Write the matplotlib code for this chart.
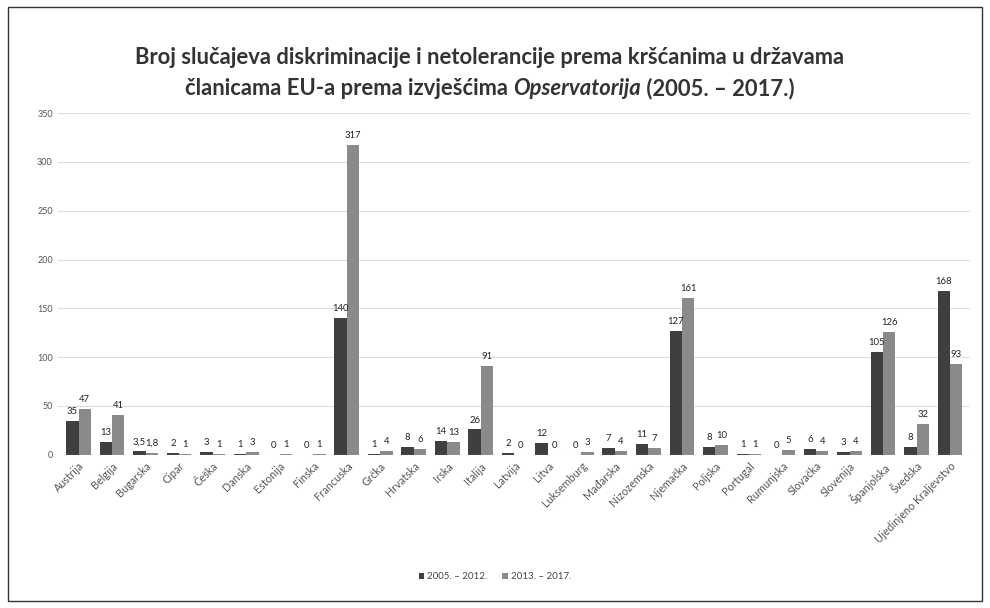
import matplotlib
matplotlib.use("Agg")
import matplotlib.pyplot as plt
import numpy as np
from matplotlib.patches import Rectangle

plt.rcParams['font.family'] = ['Lato', 'DejaVu Sans']

countries = ["Austrija", "Belgija", "Bugarska", "Cipar", "Češka", "Danska", "Estonija",
             "Finska", "Francuska", "Grčka", "Hrvatska", "Irska", "Italija", "Latvija",
             "Litva", "Luksemburg", "Mađarska", "Nizozemska", "Njemačka", "Poljska",
             "Portugal", "Rumunjska", "Slovačka", "Slovenija", "Španjolska", "Švedska",
             "Ujedinjeno Kraljevstvo"]
s2005 = [35, 13, 3.5, 2, 3, 1, 0, 0, 140, 1, 8, 14, 26, 2, 12, 0, 7, 11, 127, 8, 1, 0, 6, 3, 105, 8, 168]
s2013 = [47, 41, 1.8, 1, 1, 3, 1, 1, 317, 4, 6, 13, 91, 0, 0, 3, 4, 7, 161, 10, 1, 5, 4, 4, 126, 32, 93]
series_names = ["2005. – 2012.", "2013. – 2017."]
yticks = [0, 50, 100, 150, 200, 250, 300, 350]

def fmt(v):
    if float(v).is_integer():
        return str(int(v))
    return str(v).replace(".", ",")

fig = plt.figure(figsize=(9.9, 6.08), dpi=100)
fig.patches.append(Rectangle((0.008, 0.012), 0.984, 0.976, transform=fig.transFigure,
                             fill=False, edgecolor="#333333", linewidth=1.0))
ax = fig.add_axes([0.059, 0.252, 0.921, 0.562])

x = np.arange(len(countries))
w = 0.37
c1, c2 = "#3f3f3f", "#8a8a8a"
b1 = ax.bar(x - w/2, s2005, w, color=c1, label=series_names[0])
b2 = ax.bar(x + w/2, s2013, w, color=c2, label=series_names[1])

for xi, v in zip(x - w/2, s2005):
    ax.text(xi, v + 5, fmt(v), ha="center", va="bottom", fontsize=6.8, color="#222222")
for xi, v in zip(x + w/2, s2013):
    ax.text(xi, v + 5, fmt(v), ha="center", va="bottom", fontsize=6.8, color="#222222")

ax.set_ylim(0, 350)
ax.set_xlim(-0.6, len(countries) - 0.4)
ax.set_yticks(yticks)
ax.set_yticklabels([str(t) for t in yticks], fontsize=6.5, color="#555555")
ax.yaxis.grid(True, color="#dddddd", linewidth=0.8)
ax.set_axisbelow(True)
ax.set_xticks(x)
ax.set_xticklabels(countries, rotation=45, ha="right", rotation_mode="anchor",
                   fontsize=7.8, color="#555555")
ax.tick_params(axis="both", length=0, pad=4)
for s in ax.spines.values():
    s.set_visible(False)
ax.axhline(0, color="#cccccc", linewidth=0.8)

tsize = 15.8
tcol = "#333333"
fig.text(0.495, 0.905, "Broj slučajeva diskriminacije i netolerancije prema kršćanima u državama",
         ha="center", va="center", fontsize=tsize, fontweight="bold", color=tcol)

# second title line with italic word, assembled from pieces
parts = [("članicama EU-a prema izvješćima ", "normal"), ("Opservatorija", "italic"),
         (" (2005. – 2017.)", "normal")]
renderer = fig.canvas.get_renderer()
objs = []
for txt, style in parts:
    t = fig.text(0, 0.855, txt, ha="left", va="center", fontsize=tsize, fontweight="bold",
                 fontstyle=style, color=tcol)
    objs.append(t)
widths = [o.get_window_extent(renderer).width / fig.bbox.width for o in objs]
xstart = 0.495 - sum(widths) / 2
for o, wd in zip(objs, widths):
    o.set_x(xstart)
    xstart += wd

fig.legend(handles=[b1, b2], labels=series_names, loc="center", bbox_to_anchor=(0.5, 0.051),
           ncol=2, frameon=False, fontsize=7, handlelength=0.6, handleheight=0.6,
           columnspacing=1.5, handletextpad=0.3, labelcolor="#444444")

fig.savefig("out.png", dpi=100)
